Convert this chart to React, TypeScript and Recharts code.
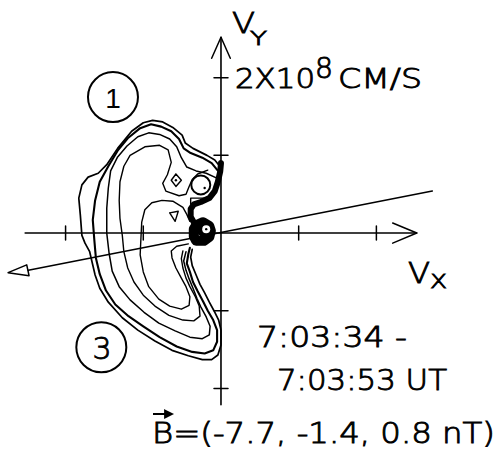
import { LineChart, Line, XAxis, YAxis, ReferenceDot } from "recharts";

// velocity units: 1e8 cm/s
type Pt = [number, number];

const contourOuter: Pt[] = [
  [0.0, 0.84], [-0.08, 0.94], [-0.18, 1.0], [-0.36, 1.09], [-0.46, 1.16], [-0.5, 1.26], [-0.62, 1.36],
  [-0.75, 1.43], [-0.88, 1.45], [-1.0, 1.42], [-1.15, 1.31], [-1.33, 1.09], [-1.47, 0.88], [-1.58, 0.77],
  [-1.71, 0.72], [-1.79, 0.62], [-1.83, 0.45], [-1.81, 0.23], [-1.79, -0.03], [-1.75, -0.13], [-1.69, -0.24],
  [-1.66, -0.37], [-1.62, -0.54], [-1.56, -0.71], [-1.45, -0.89], [-1.27, -1.09], [-1.07, -1.25], [-0.85, -1.39],
  [-0.63, -1.51], [-0.42, -1.58], [-0.24, -1.63], [-0.12, -1.63], [-0.04, -1.57], [0.0, -1.44], [0.0, -1.25],
  [-0.03, -1.12], [-0.09, -1.0], [-0.15, -0.89], [-0.21, -0.77], [-0.27, -0.66], [-0.32, -0.54], [-0.37, -0.42],
  [-0.39, -0.31], [-0.37, -0.21],
];

const contourSecond: Pt[] = [
  [-0.03, 0.79], [-0.12, 0.9], [-0.24, 0.97], [-0.39, 1.03], [-0.48, 1.09], [-0.54, 1.21], [-0.64, 1.31],
  [-0.77, 1.37], [-0.9, 1.4], [-1.04, 1.35], [-1.2, 1.22], [-1.33, 1.06], [-1.45, 0.86], [-1.56, 0.66],
  [-1.62, 0.42], [-1.65, 0.17], [-1.63, -0.09], [-1.61, -0.32], [-1.56, -0.53], [-1.48, -0.74], [-1.36, -0.92],
  [-1.19, -1.07], [-1.0, -1.2], [-0.79, -1.34], [-0.57, -1.46], [-0.37, -1.53], [-0.21, -1.55], [-0.1, -1.51],
  [-0.05, -1.4], [-0.05, -1.25], [-0.1, -1.12], [-0.17, -1.0], [-0.23, -0.88], [-0.3, -0.75], [-0.36, -0.63],
  [-0.4, -0.5], [-0.44, -0.39], [-0.42, -0.27], [-0.4, -0.19],
];

const contourThird: Pt[] = [
  [-0.06, 0.71], [-0.19, 0.77], [-0.32, 0.8], [-0.44, 0.85], [-0.51, 0.97], [-0.57, 1.11], [-0.66, 1.21],
  [-0.79, 1.27], [-0.93, 1.29], [-1.07, 1.24], [-1.21, 1.12], [-1.33, 0.98], [-1.42, 0.8], [-1.45, 0.58],
  [-1.47, 0.32], [-1.47, 0.0], [-1.44, -0.26], [-1.4, -0.49], [-1.31, -0.69], [-1.17, -0.86], [-0.99, -1.02],
  [-0.8, -1.16], [-0.59, -1.26], [-0.4, -1.34], [-0.24, -1.36], [-0.15, -1.31], [-0.14, -1.2], [-0.19, -1.08],
  [-0.26, -0.95], [-0.31, -0.84], [-0.36, -0.71], [-0.41, -0.59], [-0.45, -0.48], [-0.48, -0.36], [-0.45, -0.24],
];

const contourFourth: Pt[] = [
  [-0.17, 0.81], [-0.3, 0.76], [-0.37, 0.69], [-0.41, 0.6], [-0.45, 0.5], [-0.54, 0.48], [-0.71, 0.54],
  [-0.75, 0.64], [-0.69, 0.75], [-0.64, 0.91], [-0.68, 1.07], [-0.79, 1.13], [-0.98, 1.11], [-1.17, 1.0],
  [-1.25, 0.86], [-1.3, 0.66], [-1.31, 0.42], [-1.3, 0.19], [-1.27, -0.03], [-1.25, -0.24], [-1.2, -0.45],
  [-1.12, -0.63], [-1.0, -0.8], [-0.85, -0.94], [-0.67, -1.06], [-0.49, -1.12], [-0.35, -1.13], [-0.27, -1.07],
  [-0.28, -0.94], [-0.33, -0.82], [-0.4, -0.69], [-0.45, -0.58], [-0.49, -0.45], [-0.51, -0.33], [-0.49, -0.23],
];

const innerKidney: Pt[] = [
  [-0.4, 0.15], [-0.44, 0.24], [-0.49, 0.33], [-0.62, 0.41], [-0.76, 0.42], [-0.89, 0.39], [-0.98, 0.3],
  [-1.02, 0.14], [-1.03, -0.06], [-1.04, -0.28], [-1.0, -0.5], [-0.93, -0.69], [-0.8, -0.85], [-0.66, -0.94],
  [-0.51, -0.98], [-0.41, -0.93], [-0.4, -0.82], [-0.45, -0.69], [-0.51, -0.58], [-0.58, -0.45], [-0.63, -0.32],
  [-0.64, -0.23], [-0.57, -0.17], [-0.42, -0.14],
];

// steep ridge hugging the upper peak and running down into the central peak
const ridgePath: Pt[] = [
  [0.0, 0.9], [-0.01, 0.79], [-0.04, 0.66], [-0.08, 0.54], [-0.15, 0.45], [-0.26, 0.4], [-0.35, 0.37],
  [-0.39, 0.31], [-0.39, 0.21], [-0.35, 0.14],
];
const ridgeNotch: Pt[] = [[-0.39, 0.37], [-0.39, 0.45], [-0.19, 0.45], [-0.19, 0.41]];

// central peak: solid hexagon built from a wide ring plus its core
const peakRing: Pt[] = [
  [-0.32, 0.1], [-0.23, 0.14], [-0.15, 0.09], [-0.13, 0.03], [-0.15, -0.05], [-0.22, -0.1], [-0.32, -0.1],
  [-0.35, -0.04], [-0.35, 0.05], [-0.32, 0.1],
];
const peakCore: Pt[] = [[-0.26, 0.03], [-0.22, 0.0]];
const peakHole: Pt = [-0.19, 0.05];

const diamond: Pt[] = [[-0.58, 0.76], [-0.51, 0.68], [-0.58, 0.6], [-0.64, 0.68], [-0.58, 0.76]];
const triangle: Pt[] = [[-0.66, 0.26], [-0.55, 0.28], [-0.59, 0.15], [-0.66, 0.26]];

// local maxima
const peakDots: Pt[] = [[-0.19, 0.05], [-0.21, 0.58], [-0.58, 0.68]];
const upperPeak: Pt = [-0.26, 0.62];

const bFieldLine: Pt[] = [[2.72, 0.54], [-2.48, -0.48]];
const bFieldHead: Pt[] = [[-2.74, -0.51], [-2.5, -0.41], [-2.47, -0.55], [-2.74, -0.51]];

const vxAxis: Pt[] = [[-2.52, 0], [2.52, 0]];
const vyAxis: Pt[] = [[0, -2.21], [0, 2.52]];
const vxHead: Pt[] = [[2.21, 0.13], [2.52, 0], [2.21, -0.13]];
const vyHead: Pt[] = [[-0.12, 2.25], [0, 2.52], [0.12, 2.25]];
const axisTicks = [-2, -1, 1, 2];
const tickHalf = 0.09;

// circled region labels
const regionMarks: { label: string; x: number; y: number }[] = [
  { label: "1", x: -1.39, y: 1.75 },
  { label: "3", x: -1.54, y: -1.47 },
];

const pts = (a: Pt[]) => a.map(([x, y]) => ({ x, y }));

const font = "'DejaVu Sans', sans-serif";

export default function App() {
  const line = (key: string, d: Pt[], w = 1.5) => (
    <Line
      key={key}
      data={pts(d)}
      dataKey="y"
      type="linear"
      dot={false}
      activeDot={false}
      stroke="#000"
      strokeWidth={w}
      strokeLinejoin="round"
      strokeLinecap="round"
      isAnimationActive={false}
    />
  );

  return (
    <div style={{ position: "absolute", left: 0, top: 0, background: "#fff" }}>
      <LineChart width={500} height={456} margin={{ top: 0, right: 0, bottom: 0, left: 0 }}>
        <XAxis type="number" dataKey="x" domain={[-2.844, 3.591]} hide allowDataOverflow />
        <YAxis type="number" domain={[-2.87, 3.0]} hide allowDataOverflow />

        {line("vx", vxAxis, 1.6)}
        {line("vy", vyAxis, 1.6)}
        {line("vxh", vxHead, 1.5)}
        {line("vyh", vyHead, 1.5)}
        {axisTicks.map((t) => line(`tx${t}`, [[t, -tickHalf], [t, tickHalf]], 1.5))}
        {axisTicks.map((t) => line(`ty${t}`, [[-tickHalf, t], [tickHalf, t]], 1.5))}

        {line("b", bFieldLine, 1.5)}
        {line("bh", bFieldHead, 1.5)}

        {line("c1", contourOuter, 1.7)}
        {line("c2", contourSecond, 2.1)}
        {line("c3", contourThird, 1.5)}
        {line("c4", contourFourth, 1.4)}
        {line("k", innerKidney, 1.4)}
        {line("dia", diamond, 1.4)}
        {line("tri", triangle, 1.4)}
        {line("notch", ridgeNotch, 1.4)}
        {line("ridge", ridgePath, 6)}
        {line("ring", peakRing, 10)}
        {line("core", peakCore, 9)}

        <ReferenceDot x={upperPeak[0]} y={upperPeak[1]} r={9.5} fill="#fff" stroke="#000" strokeWidth={2} ifOverflow="visible" />
        <ReferenceDot x={peakHole[0]} y={peakHole[1]} r={4} fill="#fff" stroke="none" ifOverflow="visible" />
        {peakDots.map(([x, y], i) => (
          <ReferenceDot key={`pd${i}`} x={x} y={y} r={1.2} fill="#000" stroke="none" ifOverflow="visible" />
        ))}
        {regionMarks.map((m) => (
          <ReferenceDot key={m.label} x={m.x} y={m.y} r={25} fill="none" stroke="#000" strokeWidth={2} ifOverflow="visible" />
        ))}

        <g fontFamily={font} fontWeight={200} fill="#000" stroke="#000" strokeWidth={0.9}>
          <text x={113} y={108} fontSize={28} textAnchor="middle" fontFamily="'Liberation Sans', sans-serif" fontWeight={400} strokeWidth={0}>1</text>
          <text x={102} y={359} fontSize={30} textAnchor="middle">3</text>

          <text x={232} y={33} fontSize={29} textLength={23} lengthAdjust="spacingAndGlyphs">V</text>
          <text x={250} y={45} fontSize={19} textLength={17} lengthAdjust="spacingAndGlyphs">Y</text>

          <text x={235} y={88} fontSize={27} textLength={80} lengthAdjust="spacingAndGlyphs">2X10</text>
          <text x={315} y={78} fontSize={28} textLength={18} lengthAdjust="spacingAndGlyphs">8</text>
          <text x={338} y={88} fontSize={27} textLength={84} lengthAdjust="spacingAndGlyphs">CM/S</text>

          <text x={408} y={283} fontSize={28} textLength={22} lengthAdjust="spacingAndGlyphs">V</text>
          <text x={430} y={288} fontSize={20} textLength={17} lengthAdjust="spacingAndGlyphs">X</text>

          <text x={257} y={347} fontSize={28} textLength={150} lengthAdjust="spacingAndGlyphs">7:03:34 -</text>
          <text x={277} y={390} fontSize={28} textLength={170} lengthAdjust="spacingAndGlyphs">7:03:53 UT</text>

          <text x={152} y={443} fontSize={29} textLength={343} lengthAdjust="spacingAndGlyphs">B=(-7.7, -1.4, 0.8 nT)</text>
          <path d="M153 414 H171 M165 410.5 L172 414 L165 417.5 Z" strokeWidth={1.8} />
        </g>
      </LineChart>
    </div>
  );
}
